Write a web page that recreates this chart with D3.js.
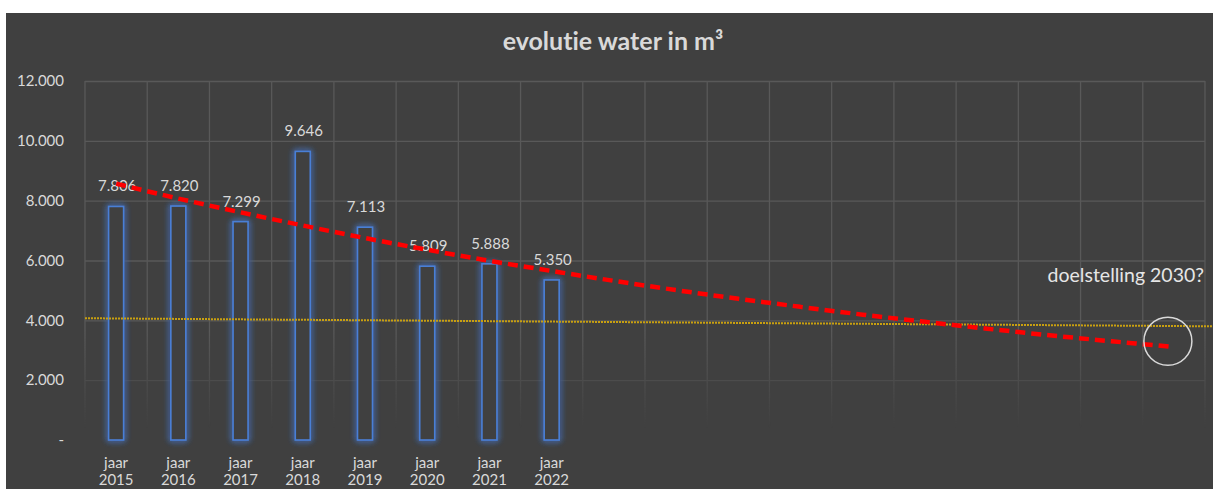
<!DOCTYPE html>
<html>
<head>
<meta charset="utf-8">
<script src="https://cdn.jsdelivr.net/npm/d3@7"></script>
<style>
  html, body { margin: 0; padding: 0; background: #ffffff; }
  svg { display: block; }
  text { font-family: Lato, "Open Sans", sans-serif; font-variant-ligatures: none; }
</style>
</head>
<body>
<div id="chart"></div>
<script>
// categories (18 columns, only the first 8 have data)
var years = [2015, 2016, 2017, 2018, 2019, 2020, 2021, 2022,
             2023, 2024, 2025, 2026, 2027, 2028, 2029, 2030, 2031, 2032];
var labelYears = [2015, 2016, 2017, 2018, 2019, 2020, 2021, 2022];
var water = [7806, 7820, 7299, 9646, 7113, 5809, 5888, 5350];
// red trend line, one value per column
var trend = [8570, 8070, 7610, 7170, 6750, 6360, 5990, 5650, 5320,
             5010, 4720, 4450, 4190, 3950, 3720, 3500, 3300, 3110];
// yellow dotted line, start and end value
var goalLine = [4070, 3800];
var yTicks = [0, 2000, 4000, 6000, 8000, 10000, 12000];
var goalText = "doelstelling 2030?";
var goalValue = 3300;

var W = 1213, H = 489;
var margins = [81, 8, 49, 85]; // top, right, bottom, left (plot area)
var plotW = 1205 - margins[3];
var plotH = 440 - margins[0];

var svg = d3.select("#chart").append("svg")
    .attr("width", W).attr("height", H);

var defs = svg.append("defs");
var glow = defs.append("filter").attr("id", "glow")
    .attr("x", "-100%").attr("y", "-20%").attr("width", "300%").attr("height", "140%");
glow.append("feGaussianBlur").attr("in", "SourceGraphic").attr("stdDeviation", 3).attr("result", "b");
var fm = glow.append("feMerge");
fm.append("feMergeNode").attr("in", "b");
fm.append("feMergeNode").attr("in", "b");
fm.append("feMergeNode").attr("in", "SourceGraphic");

var fade = defs.append("linearGradient").attr("id", "fade")
    .attr("gradientUnits", "userSpaceOnUse")
    .attr("x1", 0).attr("y1", 0).attr("x2", 0).attr("y2", H);
fade.append("stop").attr("offset", 330 / H).attr("stop-color", "#fff");
fade.append("stop").attr("offset", 428 / H).attr("stop-color", "#000");
defs.append("mask").attr("id", "gridMask")
    .attr("maskUnits", "userSpaceOnUse")
    .attr("x", 0).attr("y", 0).attr("width", W).attr("height", H)
  .append("rect").attr("width", W).attr("height", H).attr("fill", "url(#fade)");

// chart background
svg.append("rect").attr("x", 6).attr("y", 13)
    .attr("width", W - 6).attr("height", H - 13).attr("fill", "#404040");

var x = d3.scaleBand().domain(years).range([margins[3], margins[3] + plotW])
    .paddingInner(0).paddingOuter(0);
var y = d3.scaleLinear().domain([0, 12000]).range([margins[0] + plotH, margins[0]]);

// grid
var grid = svg.append("g").attr("mask", "url(#gridMask)");
grid.selectAll(".hgrid").data(yTicks.filter(function(d) { return d > 0; }))
    .enter().append("line").attr("class", "hgrid")
    .attr("x1", margins[3]).attr("x2", margins[3] + plotW)
    .attr("y1", function(d) { return y(d) + 0.5; })
    .attr("y2", function(d) { return y(d) + 0.5; })
    .attr("stroke", "#595959").attr("stroke-width", 1.3);
var edges = years.map(function(d) { return x(d); }).concat([margins[3] + plotW]);
grid.selectAll(".vgrid").data(edges)
    .enter().append("line").attr("class", "vgrid")
    .attr("x1", function(d) { return d; }).attr("x2", function(d) { return d; })
    .attr("y1", y(12000)).attr("y2", y(0))
    .attr("stroke", "#595959").attr("stroke-width", 1.3);

// y axis labels
var yAxis = d3.axisLeft(y).tickValues(yTicks).tickSize(0).tickPadding(0)
    .tickFormat(function(d) { return d === 0 ? "-  " : d3.format(",")(d).replace(/,/g, "."); });
var ya = svg.append("g").attr("transform", "translate(64,0)").call(yAxis);
ya.select(".domain").remove();
ya.selectAll("text").attr("fill", "#d9d9d9").style("font-size", "15px")
    .style("font-family", "Lato, sans-serif");

// x axis labels (two lines)
var xl = svg.append("g").selectAll("text").data(labelYears).enter().append("text")
    .attr("text-anchor", "middle").attr("fill", "#d9d9d9").style("font-size", "15px");
xl.append("tspan").attr("x", function(d) { return x(d) + x.bandwidth() / 2; })
    .attr("y", 468).text("jaar");
xl.append("tspan").attr("x", function(d) { return x(d) + x.bandwidth() / 2; })
    .attr("y", 485).text(function(d) { return d; });

// bars
var barW = 15;
svg.append("g").selectAll("rect").data(water).enter().append("rect")
    .attr("x", function(d, i) { return x(years[i]) + x.bandwidth() / 2 - barW / 2; })
    .attr("y", function(d) { return y(d); })
    .attr("width", barW)
    .attr("height", function(d) { return y(0) - y(d); })
    .attr("fill", "#404040").attr("stroke", "#4a7fd6").attr("stroke-width", 1.6)
    .attr("filter", "url(#glow)");

// data labels
svg.append("g").selectAll("text").data(water).enter().append("text")
    .attr("x", function(d, i) { return x(years[i]) + x.bandwidth() / 2 + 1; })
    .attr("y", function(d) { return y(d) - 15; })
    .attr("text-anchor", "middle").attr("fill", "#d9d9d9").style("font-size", "15px")
    .text(function(d) { return d3.format(",")(d).replace(/,/g, "."); });

// yellow line
var gx = d3.scaleLinear().domain([0, goalLine.length - 1]).range([margins[3], W]);
svg.append("path").datum(goalLine)
    .attr("d", d3.line().x(function(d, i) { return gx(i); }).y(function(d) { return y(d); }))
    .attr("fill", "none").attr("stroke", "#c9a010").attr("stroke-width", 2)
    .attr("stroke-dasharray", "2,1");

// red trend line
svg.append("path").datum(trend)
    .attr("d", d3.line().curve(d3.curveMonotoneX)
        .x(function(d, i) { return x(years[i]) + x.bandwidth() / 2; })
        .y(function(d) { return y(d); }))
    .attr("fill", "none").attr("stroke", "#ff0000").attr("stroke-width", 4.5)
    .attr("stroke-dasharray", "10,6");

// goal circle + text
svg.append("circle")
    .attr("cx", x(years[years.length - 1]) + x.bandwidth() / 2 - 6)
    .attr("cy", y(goalValue)).attr("r", 24)
    .attr("fill", "none").attr("stroke", "#d9d9d9").attr("stroke-width", 1.5);
svg.append("text").attr("x", 1204).attr("y", 282).attr("text-anchor", "end")
    .attr("fill", "#e6e6e6").style("font-size", "19.5px").text(goalText);

// title
svg.append("text").attr("x", 613).attr("y", 50).attr("text-anchor", "middle")
    .attr("fill", "#d9d9d9").style("font-size", "25px").style("font-weight", "bold")
    .text("evolutie water in m³");
</script>
</body>
</html>
